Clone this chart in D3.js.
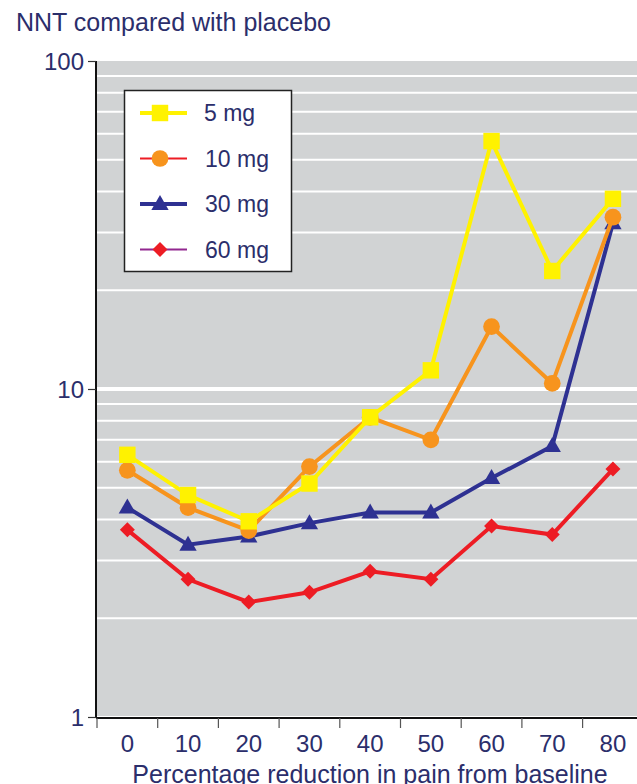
<!DOCTYPE html>
<html>
<head>
<meta charset="utf-8">
<script src="https://cdn.jsdelivr.net/npm/d3@7"></script>
<style>
  body { margin: 0; background: #fff; }
  svg text { font-family: "Liberation Sans", Arial, sans-serif; fill: #2b2e6b; }
</style>
</head>
<body>
<div class="chart"></div>
<script>
// data
var reductions = [0, 10, 20, 30, 40, 50, 60, 70, 80];
var nnt5mg  = [6.3, 4.75, 3.95, 5.15, 8.2, 11.4, 57, 22.9, 38];
var nnt10mg = [5.65, 4.35, 3.7, 5.8, 8.2, 7.0, 15.5, 10.4, 33.4];
var nnt30mg = [4.35, 3.35, 3.55, 3.9, 4.2, 4.2, 5.35, 6.7, 32];
var nnt60mg = [3.72, 2.63, 2.24, 2.4, 2.78, 2.63, 3.82, 3.6, 5.7];
var yTicks = [1, 10, 100];

var width = 637, height = 784;
var svg = d3.select(".chart").append("svg")
    .attr("width", width).attr("height", height);

// plot box (don't call it "top", window.top is read only)
var plotLeft = 97, plotTop = 61, plotBottom = 717;
var x = d3.scaleBand().domain(reductions).range([plotLeft, plotLeft + 60.7 * 9]);
var y = d3.scaleLog().domain([1, 100]).range([plotBottom, plotTop]);

// grey background
svg.append("rect")
    .attr("x", plotLeft).attr("y", plotTop)
    .attr("width", width - plotLeft).attr("height", plotBottom - plotTop - 1)
    .attr("fill", "#d1d3d4");

// white gridlines on the log minor ticks
var grid = [];
[1, 10].forEach(function(dec) {
    for (var k = 2; k <= 9; k++) grid.push(dec * k);
});
svg.append("g").selectAll("line")
    .data(grid.concat([10]))
    .enter().append("line")
    .attr("x1", plotLeft).attr("x2", width)
    .attr("y1", function(d) { return y(d); })
    .attr("y2", function(d) { return y(d); })
    .attr("stroke", "#fff")
    .attr("stroke-width", function(d) { return d == 10 ? 4 : 2; });

// axes
var yAxis = d3.axisLeft(y).tickValues(yTicks).tickFormat(d3.format("d")).tickSize(8).tickPadding(4);
var gy = svg.append("g").attr("transform", "translate(" + (plotLeft - 1) + ",0)").call(yAxis);
gy.select(".domain").attr("stroke", "#111").attr("stroke-width", 2).attr("d", "M0," + plotTop + "V" + (plotBottom + 1));
gy.selectAll(".tick line").attr("stroke", "#333").attr("stroke-width", 1.2);
gy.selectAll("text").style("font-size", "24px").attr("fill", "#2b2e6b").attr("dy", "0.35em");

var xAxis = d3.axisBottom(x).tickSize(0).tickPadding(17);
var gx = svg.append("g").attr("transform", "translate(0," + (plotBottom + 1) + ")").call(xAxis);
gx.select(".domain").attr("stroke", "#111").attr("stroke-width", 2).attr("d", "M" + (plotLeft - 1) + ",0H" + width);
gx.selectAll("text").style("font-size", "24px").attr("fill", "#2b2e6b");
// tick marks sit between the categories
gx.append("g").selectAll("line")
    .data(reductions)
    .enter().append("line")
    .attr("x1", function(d) { return x(d); })
    .attr("x2", function(d) { return x(d); })
    .attr("y1", 0).attr("y2", 10)
    .attr("stroke", "#555").attr("stroke-width", 1.2);

// titles
svg.append("text").attr("x", 16).attr("y", 31)
    .style("font-size", "25px").text("NNT compared with placebo");
svg.append("text").attr("x", 370).attr("y", 783).attr("text-anchor", "middle")
    .style("font-size", "25px").text("Percentage reduction in pain from baseline");

// series
var diamond = "M0,-7.5L7.5,0L0,7.5L-7.5,0Z";
var series = [
    {name: "5 mg",  values: nnt5mg,  color: "#fff200", legendLine: "#fff200", shape: d3.symbolSquare,   size: 270},
    {name: "10 mg", values: nnt10mg, color: "#f7941d", legendLine: "#ed1c24", shape: d3.symbolCircle,   size: 220},
    {name: "30 mg", values: nnt30mg, color: "#2e3192", legendLine: "#2e3192", shape: d3.symbolTriangle, size: 130},
    {name: "60 mg", values: nnt60mg, color: "#ed1c24", legendLine: "#92278f", shape: null,              size: 0}
];
function marker(s) {
    return s.shape ? d3.symbol().type(s.shape).size(s.size)() : diamond;
}

var line = d3.line()
    .x(function(d, i) { return x(reductions[i]) + x.bandwidth() / 2; })
    .y(function(d) { return y(d); });

// draw bottom series first so yellow lies on top like in the original
series.slice().reverse().forEach(function(s) {
    var g = svg.append("g").attr("class", "series");
    g.append("path").attr("d", line(s.values))
        .attr("fill", "none").attr("stroke", s.color).attr("stroke-width", 4);
    g.selectAll("path.pt")
        .data(s.values)
        .enter().append("path")
        .attr("class", "pt")
        .attr("d", marker(s))
        .attr("transform", function(d, i) {
            var dy = s.shape == d3.symbolTriangle ? 1 : 0;
            return "translate(" + (x(reductions[i]) + x.bandwidth() / 2) + "," + (y(d) + dy) + ")";
        })
        .attr("fill", s.color);
});

// legend
var legend = svg.append("g").attr("class", "legend");
legend.append("rect")
    .attr("x", 124.5).attr("y", 90.5).attr("width", 167).attr("height", 181)
    .attr("fill", "#fff").attr("stroke", "#222").attr("stroke-width", 1.5);
var entry = legend.selectAll("g.entry")
    .data(series)
    .enter().append("g")
    .attr("class", "entry")
    .attr("transform", function(d, i) { return "translate(0," + (113 + i * 45.5) + ")"; });
entry.append("line")
    .attr("x1", 140).attr("x2", 187).attr("y1", 0).attr("y2", 0)
    .attr("stroke", function(d) { return d.legendLine; })
    .attr("stroke-width", function(d, i) { return i == 0 || i == 2 ? 4 : 2; });
entry.append("path")
    .attr("d", marker)
    .attr("transform", function(d) { return "translate(160," + (d.shape == d3.symbolTriangle ? 1 : 0) + ")"; })
    .attr("fill", function(d) { return d.color; });
entry.append("text")
    .attr("x", function(d, i) { return i == 0 ? 204 : 205; }).attr("y", 0).attr("dy", "0.35em")
    .style("font-size", "23px").attr("fill", "#222")
    .text(function(d) { return d.name; });
</script>
</body>
</html>
